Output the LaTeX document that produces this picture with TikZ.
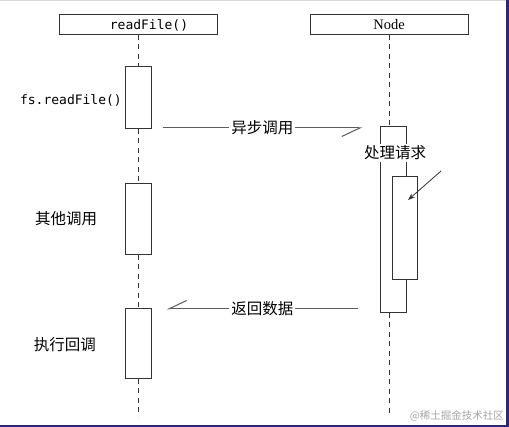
\documentclass[tikz,border=0pt]{standalone}
\usepackage{fontspec}
\setmainfont{Liberation Serif}
\newfontfamily\cjk{Noto Sans CJK SC}
\newfontfamily\monof{DejaVu Sans Mono}
\usetikzlibrary{arrows.meta}
\definecolor{frame}{HTML}{2E2878}
\definecolor{ln}{HTML}{333333}
\tikzset{
  head/.style={draw=ln, line width=1pt, fill=white, minimum width=158pt, minimum height=20pt, inner sep=0pt, outer sep=0pt},
  act/.style={draw=ln, line width=1pt, fill=white, minimum width=26pt, inner sep=0pt, outer sep=0pt},
  life/.style={draw=ln, line width=1pt, dash pattern=on 5pt off 4.5pt},
  msg/.style={draw=ln!80, line width=1pt, -{Straight Barb[right, length=18pt, width=17pt]}},
  cjklbl/.style={font=\cjk\fontsize{15.5}{16}\selectfont, inner sep=1pt, text=black},
  onlbl/.style={cjklbl, fill=white, inner sep=2pt},
  monolbl/.style={font=\monof\fontsize{13}{14}\selectfont, inner sep=0pt}
}
\begin{document}
\begin{tikzpicture}[x=1pt,y=-1pt]
\useasboundingbox (0,0) rectangle (509,427);
\fill[white] (0,0) rectangle (509,427);
\fill[black!15] (0,0) rectangle (509,1.5);
\fill[frame] (505.5,0) rectangle (509,427);
\fill[frame] (0,425.5) rectangle (509,427);

% heads
\node[head] (rf) at (138.5,25) {};
\node[monolbl] (rft) at ([xshift=10.5pt]rf.center) {readFile()};
\node[head, font=\fontsize{14.5}{15}\selectfont] (nd) at (389,25) {Node};

% activations
\node[act, minimum height=62pt] (a1) at (138.5,98) {};
\node[act, minimum height=71pt] (a2) at (138.5,219.5) {};
\node[act, minimum height=70pt] (a3) at (138.5,344) {};
\node[act, minimum height=186pt] (b1) at (393,220) {};
\coordinate (e1) at (138.5,417);
\coordinate (e2) at (389,417);

% lifelines
\draw[life] (rf.south) -- (a1.north);
\draw[life] (a1.south) -- (a2.north);
\draw[life] (a2.south) -- (a3.north);
\draw[life] (a3.south) -- (e1);
\draw[life] (nd.south) -- (nd.south |- b1.north);
\draw[life] (e2 |- b1.south) -- (e2);

% redraw boxes on top of lifelines
\node[act, minimum height=62pt] at (a1) {};
\node[act, minimum height=71pt] at (a2) {};
\node[act, minimum height=70pt] at (a3) {};
\node[act, minimum height=186pt] at (b1) {};

\node[cjklbl, fill=white, inner sep=1.5pt] (pl) at (395,153) {处理请求};
\node[act, minimum width=25pt, minimum height=103pt] (b2) at (404.5,228.5) {};

% messages
\draw[msg] ([xshift=11pt,yshift=1pt]a1.south east) -- node[onlbl] {异步调用} ([xshift=-18pt,yshift=1pt]a1.south east -| b1.west);
\draw[msg] ([xshift=-22pt,yshift=4pt]b1.south west) -- node[onlbl] {返回数据} ([xshift=15pt,yshift=4pt]b1.south west -| a3.east);

\coordinate (p) at (441,171);
\draw[ln, line width=0.8pt, -{Stealth[length=7pt, width=5pt]}] (p) -- ([xshift=-9pt,yshift=-23pt]b2.north east);

% side labels
\node[monolbl, anchor=east] (fsl) at (122,100) {fs.readFile()};
\node[cjklbl] (ol) at (66,219) {其他调用};
\node[cjklbl] (cl) at (65,345) {执行回调};

\node[font=\cjk\fontsize{10.5}{11}\selectfont, text=black!35, anchor=east, inner sep=0pt] (wm) at (504,416) {@稀土掘金技术社区};
\end{tikzpicture}
\end{document}
